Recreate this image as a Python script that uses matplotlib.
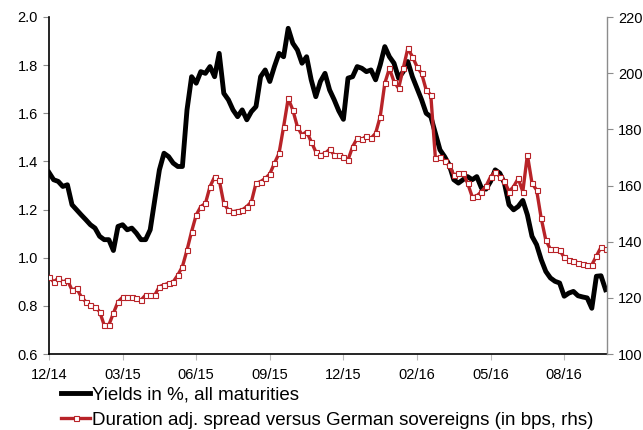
import matplotlib
matplotlib.use("Agg")
import matplotlib.pyplot as plt
import numpy as np

plt.rcParams['font.family'] = ['Liberation Sans', 'DejaVu Sans']

# Weekly-ish observations, one value per step on the shared x index
yields_pct = [
    1.354, 1.324, 1.317, 1.296, 1.303, 1.220, 1.199, 1.178, 1.158, 1.137,
    1.123, 1.089, 1.075, 1.075, 1.030, 1.130, 1.137, 1.116, 1.123, 1.102,
    1.075, 1.075, 1.116, 1.241, 1.365, 1.434, 1.420, 1.393, 1.379, 1.379,
    1.614, 1.752, 1.725, 1.773, 1.766, 1.794, 1.752, 1.849, 1.683, 1.656,
    1.614, 1.586, 1.614, 1.573, 1.607, 1.628, 1.752, 1.780, 1.732, 1.794,
    1.849, 1.835, 1.953, 1.891, 1.863, 1.808, 1.835, 1.739, 1.669, 1.732,
    1.766, 1.697, 1.656, 1.610, 1.575, 1.746, 1.752, 1.794, 1.787, 1.773,
    1.780, 1.739, 1.801, 1.877, 1.835, 1.808, 1.746, 1.773, 1.815, 1.752,
    1.704, 1.656, 1.600, 1.586, 1.517, 1.448, 1.420, 1.386, 1.324, 1.310,
    1.324, 1.337, 1.324, 1.337, 1.290, 1.285, 1.317, 1.365, 1.351, 1.310,
    1.220, 1.199, 1.213, 1.238, 1.178, 1.089, 1.054, 0.992, 0.943, 0.916,
    0.902, 0.895, 0.840, 0.853, 0.860, 0.842, 0.837, 0.833, 0.790, 0.923,
    0.925, 0.867,
]

spread_bps = [
    127.5, 125.7, 126.9, 125.7, 126.3, 122.8, 123.4, 120.4, 118.6, 117.4,
    116.8, 115.1, 110.3, 110.3, 114.5, 118.6, 120.2, 120.4, 120.2, 119.8,
    119.2, 121.0, 121.0, 121.0, 124.0, 124.6, 125.2, 125.7, 128.1, 131.1,
    137.0, 143.6, 149.5, 152.5, 153.6, 159.6, 163.1, 162.0, 153.6, 151.3,
    150.7, 151.0, 151.3, 152.5, 154.2, 160.8, 161.4, 162.5, 164.1, 167.9,
    171.4, 180.9, 191.0, 186.9, 180.9, 178.0, 179.2, 175.6, 172.0, 170.9,
    171.4, 172.9, 170.9, 171.0, 170.3, 169.1, 173.8, 176.8, 176.4, 177.6,
    176.8, 178.6, 184.5, 196.4, 201.7, 197.0, 194.6, 201.7, 208.8, 205.9,
    202.3, 199.9, 194.0, 192.2, 169.7, 170.3, 168.8, 167.3, 163.7, 164.3,
    164.6, 160.8, 156.0, 156.3, 157.8, 159.8, 163.1, 164.9, 163.1, 161.7,
    157.8, 159.6, 162.5, 157.8, 170.9, 160.8, 158.4, 148.3, 140.6, 137.3,
    137.3, 137.0, 134.4, 133.5, 133.1, 132.5, 131.9, 131.6, 131.7, 134.9,
    138.0, 137.3,
]

date_labels = ["12/14", "03/15", "06/15", "09/15", "12/15", "02/16", "05/16", "08/16"]
label_step = 16

BLACK = "#000000"
RED = "#B82328"
GREY = "#8C8C8C"

x = np.arange(len(yields_pct))

fig = plt.figure(figsize=(6.43, 4.30), dpi=100)
ax = fig.add_axes([49 / 643, 1 - 354 / 430, 558 / 643, 337 / 430])
ax2 = ax.twinx()

line_y, = ax.plot(x, yields_pct, color=BLACK, lw=3.5, solid_joinstyle='round',
                  label="Yields in %, all maturities")
line_s, = ax2.plot(x, spread_bps, color=RED, lw=2.4, marker='s', ms=3.6,
                   mfc='white', mec=RED, mew=0.8,
                   label="Duration adj. spread versus German sovereigns (in bps, rhs)")

ax.set_xlim(0, (607 - 49) / 4.6)
ax.set_ylim(0.6, 2.0)
ax2.set_ylim(100, 220)
ax.set_yticks(np.arange(0.6, 2.01, 0.2))
ax2.set_yticks(np.arange(100, 221, 20))
ax.set_xticks(np.arange(len(date_labels)) * label_step)
ax.set_xticklabels(date_labels)
ax.yaxis.set_major_formatter(matplotlib.ticker.FormatStrFormatter('%.1f'))

for a in (ax, ax2):
    a.spines['top'].set_visible(False)
ax.spines['left'].set_color(BLACK)
ax.spines['left'].set_linewidth(1.2)
ax.spines['bottom'].set_color(BLACK)
ax.spines['bottom'].set_linewidth(1.2)
ax.spines['right'].set_visible(False)
ax2.spines['left'].set_visible(False)
ax2.spines['bottom'].set_visible(False)
ax2.spines['right'].set_color(GREY)
ax2.spines['right'].set_linewidth(1.0)

ax.tick_params(axis='y', direction='out', length=4, width=0.8, color=GREY,
               labelsize=10.5, pad=4)
ax.tick_params(axis='x', direction='out', length=4, width=0.8, color='#BBBBBB',
               labelsize=10.5, pad=6)
ax2.tick_params(axis='y', direction='out', length=4, width=0.8, color=GREY,
                labelsize=10.5, pad=4)

fig.legend(handles=[line_y, line_s], loc='upper left',
           bbox_to_anchor=(61 / 643, 1 - 386 / 430), frameon=False,
           fontsize=13.5, handlelength=1.55, handletextpad=0.1,
           labelspacing=0.45, borderaxespad=0, borderpad=0,
           markerscale=1.0)

fig.savefig("out.png", dpi=100, facecolor='white')
